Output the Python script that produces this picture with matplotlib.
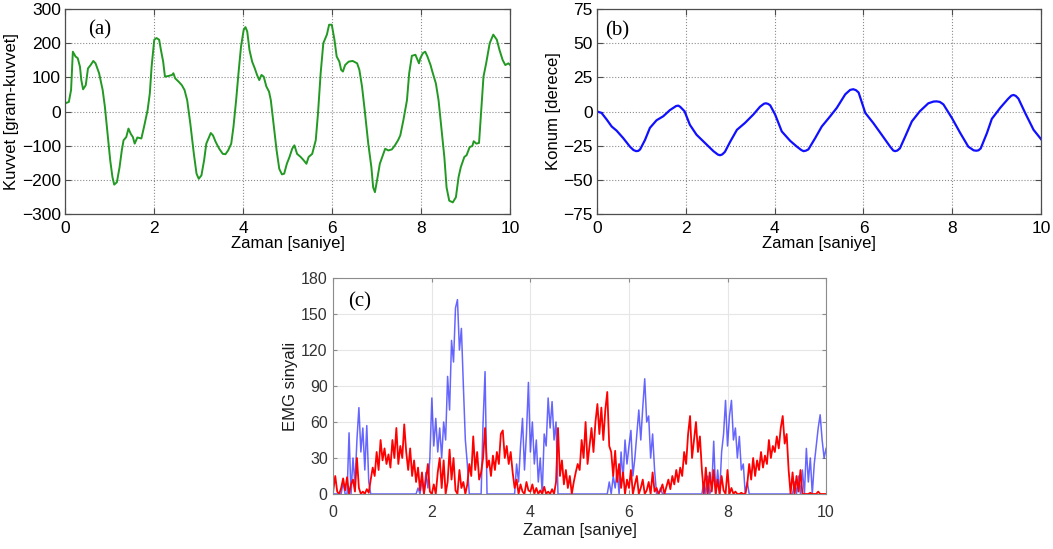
import numpy as np
import matplotlib
matplotlib.use("Agg")
import matplotlib.pyplot as plt

# ---------------- data ----------------
# (a) force [gram-kuvvet] vs time [s]
force_t = [0.02, 0.08, 0.13, 0.17, 0.23, 0.28, 0.33, 0.36, 0.40, 0.46, 0.51, 0.57, 0.63, 0.68, 0.76, 0.84,
           0.89, 0.95, 1.01, 1.06, 1.10, 1.16, 1.22, 1.27, 1.31, 1.37, 1.42, 1.47, 1.52, 1.56, 1.62, 1.71,
           1.77, 1.85, 1.90, 1.94, 2.00, 2.05, 2.11, 2.15, 2.20, 2.24, 2.32, 2.40, 2.43, 2.47, 2.55, 2.62,
           2.68, 2.74, 2.81, 2.89, 2.95, 3.00, 3.06, 3.12, 3.17, 3.23, 3.27, 3.32, 3.38, 3.46, 3.54, 3.60,
           3.66, 3.73, 3.78, 3.84, 3.90, 3.95, 4.01, 4.05, 4.09, 4.14, 4.20, 4.26, 4.31, 4.36, 4.41, 4.46,
           4.52, 4.58, 4.62, 4.68, 4.75, 4.81, 4.87, 4.92, 4.98, 5.04, 5.10, 5.15, 5.21, 5.29, 5.36, 5.42,
           5.47, 5.55, 5.63, 5.68, 5.74, 5.80, 5.88, 5.93, 5.99, 6.05, 6.10, 6.16, 6.20, 6.24, 6.29, 6.37,
           6.46, 6.56, 6.61, 6.67, 6.73, 6.81, 6.88, 6.92, 6.96, 7.02, 7.07, 7.15, 7.19, 7.26, 7.34, 7.41,
           7.48, 7.53, 7.60, 7.68, 7.73, 7.79, 7.87, 7.95, 7.98, 8.04, 8.09, 8.14, 8.21, 8.25, 8.33, 8.39,
           8.45, 8.52, 8.57, 8.63, 8.71, 8.78, 8.84, 8.89, 8.97, 9.02, 9.09, 9.15, 9.18, 9.24, 9.30, 9.35,
           9.40, 9.46, 9.54, 9.62, 9.70, 9.76, 9.83, 9.89, 9.96, 10.0]
force_v = [25, 28, 63, 175, 161, 156, 131, 92, 65, 77, 126, 136, 148, 141, 112, 63,
           14, -65, -143, -192, -214, -207, -163, -114, -84, -75, -50, -65, -75, -94, -76, -79,
           -45, 4, 53, 131, 210, 215, 210, 180, 146, 102, 104, 107, 112, 97, 87, 77,
           63, 33, -35, -124, -182, -197, -187, -143, -94, -75, -63, -70, -89, -109, -124, -125,
           -114, -94, -45, 33, 122, 190, 239, 247, 234, 180, 146, 126, 107, 92, 107, 102,
           73, 58, 33, -35, -114, -168, -184, -182, -153, -133, -109, -99, -124, -133, -143, -153,
           -133, -124, -84, -6, 112, 200, 225, 254, 254, 210, 161, 146, 122, 117, 136, 146,
           148, 141, 122, 73, 4, -94, -163, -222, -236, -192, -153, -124, -109, -114, -111, -99,
           -84, -70, -25, 33, 112, 163, 166, 141, 156, 171, 175, 161, 136, 117, 82, 33,
           -45, -133, -222, -261, -266, -251, -192, -163, -133, -128, -104, -101, -87, -94, -92, 4,
           102, 141, 200, 225, 210, 180, 151, 136, 141, 136]

# (b) position [derece] vs time [s]
pos_t = [0.0, 0.1, 0.22, 0.33, 0.44, 0.59, 0.74, 0.82, 0.88, 0.93, 0.97, 1.08, 1.19, 1.34, 1.49, 1.64,
         1.78, 1.83, 1.87, 1.97, 2.09, 2.24, 2.43, 2.62, 2.72, 2.77, 2.82, 2.88, 3.0, 3.15, 3.33, 3.52,
         3.67, 3.76, 3.8, 3.85, 3.9, 4.01, 4.16, 4.35, 4.5, 4.6, 4.65, 4.7, 4.76, 4.91, 5.06, 5.25,
         5.4, 5.59, 5.7, 5.77, 5.83, 5.89, 6.04, 6.22, 6.41, 6.6, 6.67, 6.71, 6.76, 6.82, 6.94, 7.09,
         7.27, 7.46, 7.58, 7.65, 7.72, 7.8, 7.99, 8.18, 8.36, 8.48, 8.54, 8.59, 8.64, 8.78, 8.89, 9.08,
         9.26, 9.33, 9.38, 9.43, 9.49, 9.64, 9.83, 10.0]
pos_v = [0, -1, -6, -11, -14, -19.5, -25.7, -28.2, -29, -28.8, -27.7, -20.8, -12, -6.4, -3.5, 1,
         4, 4.3, 3.5, 0.2, -9.7, -17, -23, -29, -31.5, -32, -31.4, -29.5, -22, -13.4, -8.4, -2.2,
         3.5, 5.7, 6, 5.6, 4.5, -2.2, -14.6, -21.5, -25.7, -28.2, -29, -28.7, -27.7, -19.6, -11, -3.5,
         2.7, 12.6, 15.8, 16.3, 15.6, 13.9, -1, -8.4, -17, -25.7, -28.5, -29, -28.6, -27, -18.3, -7.2,
         0.2, 6, 7.3, 7.4, 7, 5.2, -4.7, -15.8, -25.7, -28.4, -28.7, -28.4, -27, -15.8, -5.4, 2.7,
         9.4, 11.6, 12.1, 11.4, 9.4, -1, -13.4, -20.3]

# (c) EMG signals, sampled every 0.04 s from 0 to 10 s
emg_step = 0.04
emg_red = [3, 15, 2, 0, 5, 13, 3, 14, 0, 8, 12, 2, 30, 5, 0, 2, 0, 4, 1, 12, 22, 15, 35, 20, 45,
           28, 38, 25, 33, 22, 45, 30, 55, 25, 40, 30, 58, 35, 20, 38, 15, 28, 10, 22, 3, 18, 0, 12, 25, 2,
           0, 8, 0, 18, 30, 5, 28, 0, 10, 37, 12, 30, 3, 0, 20, 5, 10, 0, 8, 25, 15, 48, 20, 35, 12,
           18, 30, 55, 22, 28, 15, 32, 20, 35, 25, 50, 53, 30, 40, 25, 35, 18, 5, 12, 0, 8, 2, 0, 10, 3,
           2, 8, 0, 5, 0, 3, 0, 6, 0, 2, 0, 4, 0, 10, 55, 15, 28, 8, 20, 5, 15, 0, 10, 18, 25,
           20, 45, 30, 60, 25, 40, 55, 35, 60, 75, 50, 72, 45, 70, 85, 40, 35, 15, 36, 10, 25, 5, 18, 0, 12,
           5, 20, 0, 8, 15, 0, 5, 12, 0, 3, 10, 0, 18, 2, 5, 0, 3, 8, 0, 6, 12, 4, 15, 8, 20,
           10, 22, 15, 35, 25, 50, 65, 30, 45, 60, 35, 48, 20, 0, 22, 0, 18, 2, 20, 0, 12, 0, 15, 3, 0,
           20, 0, 5, 0, 2, 0, 0, 1, 0, 0, 8, 25, 12, 30, 15, 28, 20, 35, 22, 32, 25, 45, 30, 40, 35,
           48, 38, 55, 65, 42, 50, 20, 0, 18, 0, 15, 2, 20, 0, 0, 0, 0, 1, 0, 0, 0, 2, 0, 0, 0, 0]
emg_blue = [0, 0, 0, 0, 0, 10, 0, 0, 51, 0, 30, 8, 45, 72, 35, 55, 20, 57, 10, 0, 0, 0, 0, 0, 0,
            0, 0, 0, 0, 0, 0, 0, 0, 0, 0, 0, 0, 0, 0, 0, 0, 0, 0, 5, 0, 12, 0, 18, 5, 30,
            80, 40, 63, 35, 55, 30, 60, 45, 98, 70, 128, 110, 155, 162, 120, 138, 90, 45, 25, 0, 0, 0, 0, 0, 0,
            0, 60, 102, 0, 0, 0, 0, 0, 0, 0, 0, 0, 0, 0, 0, 0, 0, 0, 25, 10, 40, 63, 20, 50, 93,
            35, 60, 25, 45, 10, 30, 0, 50, 40, 80, 55, 77, 45, 60, 0, 0, 0, 0, 0, 0, 0, 0, 0, 0, 0,
            0, 0, 0, 0, 0, 0, 0, 0, 0, 0, 0, 0, 0, 0, 0, 10, 0, 15, 5, 20, 0, 35, 12, 45, 25,
            40, 53, 15, 30, 50, 70, 45, 72, 96, 60, 65, 30, 50, 20, 0, 0, 5, 0, 0, 0, 0, 0, 0, 0, 0,
            0, 0, 0, 0, 0, 0, 0, 0, 0, 0, 0, 0, 0, 10, 0, 15, 0, 5, 44, 0, 20, 0, 35, 50, 78,
            40, 65, 78, 45, 55, 30, 48, 20, 25, 0, 10, 0, 0, 0, 0, 0, 0, 0, 0, 0, 0, 0, 0, 0, 0,
            0, 0, 0, 0, 0, 0, 0, 0, 0, 10, 0, 15, 0, 20, 0, 38, 10, 30, 0, 25, 40, 55, 66, 45, 30, 38]

# ---------------- figure ----------------
plt.rcParams['font.family'] = ['Liberation Sans', 'DejaVu Sans']

fig = plt.figure(figsize=(10.53, 5.49), dpi=100)

def style_old(ax):
    for s in ax.spines.values():
        s.set_color('0.3')
        s.set_linewidth(0.9)
    ax.grid(True, linestyle=':', color='0.55', linewidth=0.8)
    ax.tick_params(direction='in', top=True, right=True, length=4, width=0.8,
                   labelsize=12.5, pad=3, color='0.3')
    ax.tick_params(axis='x', pad=5)

# (a)
axa = fig.add_axes([0.062, 0.6102, 0.4225, 0.3734])
axa.plot(force_t, force_v, color='#229922', lw=1.4)
axa.set_xlim(0, 10)
axa.set_ylim(-300, 300)
axa.set_xticks(range(0, 11, 2))
axa.set_yticks(range(-300, 301, 100))
style_old(axa)
axa.set_xlabel('Zaman [saniye]', fontsize=12, labelpad=0)
axa.set_ylabel('Kuvvet [gram-kuvvet]', fontsize=12, labelpad=2)
axa.text(0.78, 238, '(a)', fontsize=15, family='Liberation Serif', ha='center', va='center')

# (b)
axb = fig.add_axes([0.567, 0.6102, 0.4217, 0.3734])
axb.plot(pos_t, pos_v, color='#1010ff', lw=1.6)
axb.set_xlim(0, 10)
axb.set_ylim(-75, 75)
axb.set_xticks(range(0, 11, 2))
axb.set_yticks(range(-75, 76, 25))
style_old(axb)
axb.set_xlabel('Zaman [saniye]', fontsize=12, labelpad=0)
axb.set_ylabel('Konum [derece]', fontsize=12, labelpad=2)
axb.text(0.45, 59, '(b)', fontsize=15, family='Liberation Serif', ha='center', va='center')

# (c)
t_red = np.arange(len(emg_red)) * emg_step
t_blue = np.arange(len(emg_blue)) * emg_step
axc = fig.add_axes([0.3165, 0.1002, 0.4680, 0.3934])
axc.plot(t_blue, emg_blue, color='blue', lw=1.1, alpha=0.6)
axc.plot(t_red, emg_red, color='red', lw=1.3)
axc.set_xlim(0, 10)
axc.set_ylim(0, 180)
axc.set_xticks(range(0, 11, 2))
axc.set_yticks(range(0, 181, 30))
for s in axc.spines.values():
    s.set_color('0.55')
    s.set_linewidth(0.8)
axc.grid(True, linestyle='-', color='0.9', linewidth=0.8)
axc.set_axisbelow(True)
axc.tick_params(direction='in', top=True, right=True, length=3, width=0.8,
                labelsize=11.5, labelcolor='0.2', color='0.55', pad=4)
axc.tick_params(axis='x', pad=8)
axc.set_xlabel('Zaman [saniye]', fontsize=12, color='0.1', labelpad=2)
axc.set_ylabel('EMG sinyali', fontsize=12, color='0.1', labelpad=2)
axc.text(0.54, 160, '(c)', fontsize=15, family='Liberation Serif', ha='center', va='center')

fig.savefig('out.png', dpi=100)
